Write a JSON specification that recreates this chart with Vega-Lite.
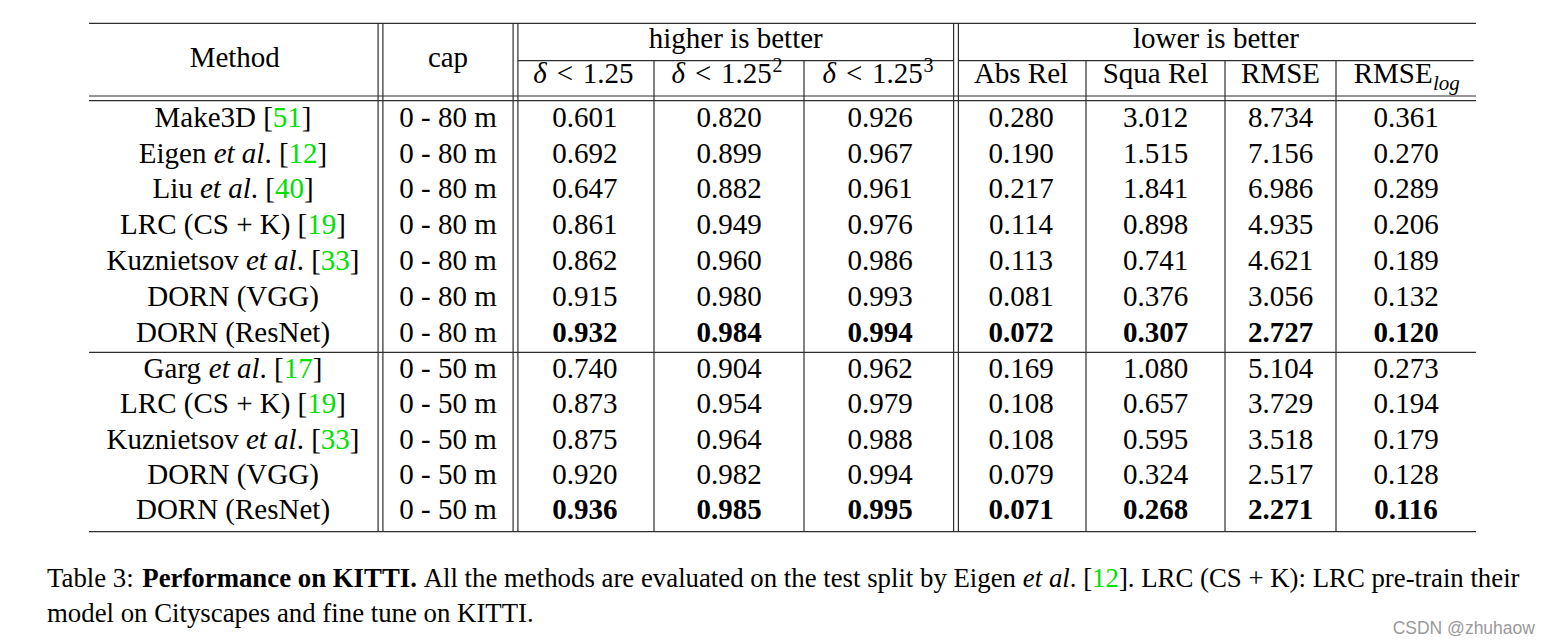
{
  "$schema": "https://vega.github.io/schema/vega-lite/v6.json",
  "width": 1550,
  "height": 644,
  "autosize": {"type": "none"},
  "padding": 0,
  "background": "white",
  "config": {
    "view": {"stroke": null},
    "text": {"font": "Liberation Serif", "fontSize": 29, "baseline": "alphabetic", "color": "#000000"}
  },
  "datasets": {
    "results": [
      {"slot": 6, "method": "Make3D", "cap": "0 - 80 m", "d1": 0.601, "d2": 0.820, "d3": 0.926, "absrel": 0.280, "squarel": 3.012, "rmse": 8.734, "rmselog": 0.361, "best": false},
      {"slot": 7, "method": "Eigen et al.", "cap": "0 - 80 m", "d1": 0.692, "d2": 0.899, "d3": 0.967, "absrel": 0.190, "squarel": 1.515, "rmse": 7.156, "rmselog": 0.270, "best": false},
      {"slot": 8, "method": "Liu et al.", "cap": "0 - 80 m", "d1": 0.647, "d2": 0.882, "d3": 0.961, "absrel": 0.217, "squarel": 1.841, "rmse": 6.986, "rmselog": 0.289, "best": false},
      {"slot": 9, "method": "LRC (CS + K)", "cap": "0 - 80 m", "d1": 0.861, "d2": 0.949, "d3": 0.976, "absrel": 0.114, "squarel": 0.898, "rmse": 4.935, "rmselog": 0.206, "best": false},
      {"slot": 10, "method": "Kuznietsov et al.", "cap": "0 - 80 m", "d1": 0.862, "d2": 0.960, "d3": 0.986, "absrel": 0.113, "squarel": 0.741, "rmse": 4.621, "rmselog": 0.189, "best": false},
      {"slot": 11, "method": "DORN (VGG)", "cap": "0 - 80 m", "d1": 0.915, "d2": 0.980, "d3": 0.993, "absrel": 0.081, "squarel": 0.376, "rmse": 3.056, "rmselog": 0.132, "best": false},
      {"slot": 12, "method": "DORN (ResNet)", "cap": "0 - 80 m", "d1": 0.932, "d2": 0.984, "d3": 0.994, "absrel": 0.072, "squarel": 0.307, "rmse": 2.727, "rmselog": 0.120, "best": true},
      {"slot": 14, "method": "Garg et al.", "cap": "0 - 50 m", "d1": 0.740, "d2": 0.904, "d3": 0.962, "absrel": 0.169, "squarel": 1.080, "rmse": 5.104, "rmselog": 0.273, "best": false},
      {"slot": 15, "method": "LRC (CS + K)", "cap": "0 - 50 m", "d1": 0.873, "d2": 0.954, "d3": 0.979, "absrel": 0.108, "squarel": 0.657, "rmse": 3.729, "rmselog": 0.194, "best": false},
      {"slot": 16, "method": "Kuznietsov et al.", "cap": "0 - 50 m", "d1": 0.875, "d2": 0.964, "d3": 0.988, "absrel": 0.108, "squarel": 0.595, "rmse": 3.518, "rmselog": 0.179, "best": false},
      {"slot": 17, "method": "DORN (VGG)", "cap": "0 - 50 m", "d1": 0.920, "d2": 0.982, "d3": 0.994, "absrel": 0.079, "squarel": 0.324, "rmse": 2.517, "rmselog": 0.128, "best": false},
      {"slot": 18, "method": "DORN (ResNet)", "cap": "0 - 50 m", "d1": 0.936, "d2": 0.985, "d3": 0.995, "absrel": 0.071, "squarel": 0.268, "rmse": 2.271, "rmselog": 0.116, "best": true}
    ],
    "columns": [
      {"metric": "d1", "col": 2.5},
      {"metric": "d2", "col": 3.5},
      {"metric": "d3", "col": 4.5},
      {"metric": "absrel", "col": 5.5},
      {"metric": "squarel", "col": 6.5},
      {"metric": "rmse", "col": 7.5},
      {"metric": "rmselog", "col": 8.5}
    ],
    "hrules": [
      {"slot": 0, "c0": 0, "c1": 9, "kind": "single"},
      {"slot": 2, "c0": 2, "c1": 5, "kind": "sub"},
      {"slot": 2, "c0": 5, "c1": 9, "kind": "sub"},
      {"slot": 5, "c0": 0, "c1": 9, "kind": "double"},
      {"slot": 13, "c0": 0, "c1": 9, "kind": "single"},
      {"slot": 19, "c0": 0, "c1": 9, "kind": "single"}
    ],
    "vrules": [
      {"c": 1, "slot": 0, "slot2": 19, "double": true},
      {"c": 2, "slot": 0, "slot2": 19, "double": true},
      {"c": 3, "slot": 2, "slot2": 19, "double": false},
      {"c": 4, "slot": 2, "slot2": 19, "double": false},
      {"c": 5, "slot": 0, "slot2": 19, "double": true},
      {"c": 6, "slot": 2, "slot2": 19, "double": false},
      {"c": 7, "slot": 2, "slot2": 19, "double": false},
      {"c": 8, "slot": 2, "slot2": 19, "double": false}
    ],
    "headers": [
      {"slot": 3, "col": 0.5, "text": "Method", "kind": "plain"},
      {"slot": 3, "col": 1.5, "text": "cap", "kind": "plain"},
      {"slot": 1, "col": 3.545, "text": "higher is better", "kind": "plain"},
      {"slot": 1, "col": 6.935, "text": "lower is better", "kind": "plain"},
      {"slot": 4, "col": 5.5, "text": "Abs Rel", "kind": "plain"},
      {"slot": 4, "col": 6.5, "text": "Squa Rel", "kind": "plain"},
      {"slot": 4, "col": 7.5, "text": "RMSE", "kind": "plain"},
      {"slot": 4, "col": 2.5, "text": "δ", "kind": "delta"},
      {"slot": 4, "col": 3.5, "text": "δ", "kind": "delta"},
      {"slot": 4, "col": 4.5, "text": "δ", "kind": "delta"},
      {"slot": 4, "col": 2.5, "text": "<\u20041.25", "kind": "deltarest"},
      {"slot": 4, "col": 3.5, "text": "<\u20041.25", "kind": "deltarest"},
      {"slot": 4, "col": 4.5, "text": "<\u20041.25", "kind": "deltarest"},
      {"slot": 4, "col": 3.5, "text": "2", "kind": "sup"},
      {"slot": 4, "col": 4.5, "text": "3", "kind": "sup"},
      {"slot": 4, "col": 8.5, "text": "RMSE", "kind": "rmsebase"},
      {"slot": 4, "col": 8.5, "text": "log", "kind": "sub"}
    ],
    "methodRuns": [
      {"slot": 6, "em": -2.7075, "text": "Make3D [", "kind": "normal"},
      {"slot": 6, "em": 1.3745, "text": "51", "kind": "cite"},
      {"slot": 6, "em": 2.3745, "text": "]", "kind": "normal"},
      {"slot": 7, "em": -3.2495, "text": "Eigen", "kind": "normal"},
      {"slot": 7, "em": -0.6665, "text": "et al", "kind": "italic"},
      {"slot": 7, "em": 1.0835, "text": ". [", "kind": "normal"},
      {"slot": 7, "em": 1.9165, "text": "12", "kind": "cite"},
      {"slot": 7, "em": 2.9165, "text": "]", "kind": "normal"},
      {"slot": 8, "em": -2.7775, "text": "Liu", "kind": "normal"},
      {"slot": 8, "em": -1.1385, "text": "et al", "kind": "italic"},
      {"slot": 8, "em": 0.6115, "text": ". [", "kind": "normal"},
      {"slot": 8, "em": 1.4445, "text": "40", "kind": "cite"},
      {"slot": 8, "em": 2.4445, "text": "]", "kind": "normal"},
      {"slot": 9, "em": -3.893, "text": "LRC (CS + K) [", "kind": "normal"},
      {"slot": 9, "em": 2.56, "text": "19", "kind": "cite"},
      {"slot": 9, "em": 3.56, "text": "]", "kind": "normal"},
      {"slot": 10, "em": -4.3605, "text": "Kuznietsov", "kind": "normal"},
      {"slot": 10, "em": 0.4445, "text": "et al", "kind": "italic"},
      {"slot": 10, "em": 2.1945, "text": ". [", "kind": "normal"},
      {"slot": 10, "em": 3.0275, "text": "33", "kind": "cite"},
      {"slot": 10, "em": 4.0275, "text": "]", "kind": "normal"},
      {"slot": 11, "em": -2.9575, "text": "DORN (VGG)", "kind": "normal"},
      {"slot": 12, "em": -3.3465, "text": "DORN (ResNet)", "kind": "normal"},
      {"slot": 14, "em": -3.0825, "text": "Garg", "kind": "normal"},
      {"slot": 14, "em": -0.8335, "text": "et al", "kind": "italic"},
      {"slot": 14, "em": 0.9165, "text": ". [", "kind": "normal"},
      {"slot": 14, "em": 1.7495, "text": "17", "kind": "cite"},
      {"slot": 14, "em": 2.7495, "text": "]", "kind": "normal"},
      {"slot": 15, "em": -3.893, "text": "LRC (CS + K) [", "kind": "normal"},
      {"slot": 15, "em": 2.56, "text": "19", "kind": "cite"},
      {"slot": 15, "em": 3.56, "text": "]", "kind": "normal"},
      {"slot": 16, "em": -4.3605, "text": "Kuznietsov", "kind": "normal"},
      {"slot": 16, "em": 0.4445, "text": "et al", "kind": "italic"},
      {"slot": 16, "em": 2.1945, "text": ". [", "kind": "normal"},
      {"slot": 16, "em": 3.0275, "text": "33", "kind": "cite"},
      {"slot": 16, "em": 4.0275, "text": "]", "kind": "normal"},
      {"slot": 17, "em": -2.9575, "text": "DORN (VGG)", "kind": "normal"},
      {"slot": 18, "em": -3.3465, "text": "DORN (ResNet)", "kind": "normal"}
    ],
    "captionRuns": [
      {"slot": 20, "em": 0, "text": "Table 3:", "kind": "normal"},
      {"slot": 20, "em": 3.555, "text": "Performance on KITTI.", "kind": "bold"},
      {"slot": 20, "em": 14.054, "text": "All the methods are evaluated on the test split by Eigen", "kind": "normal"},
      {"slot": 20, "em": 36.413, "text": "et al", "kind": "italic"},
      {"slot": 20, "em": 38.163, "text": ". [", "kind": "normal"},
      {"slot": 20, "em": 38.996, "text": "12", "kind": "cite"},
      {"slot": 20, "em": 39.996, "text": "]. LRC (CS + K): LRC pre-train their", "kind": "normal"},
      {"slot": 21, "em": 0, "text": "model on Cityscapes and fine tune on KITTI.", "kind": "normal"},
      {"slot": 22, "em": 55.52, "text": "CSDN @zhuhaow", "kind": "watermark"}
    ]
  },
  "encoding": {
    "y": {
      "field": "slot",
      "type": "quantitative",
      "scale": {
        "domain": [0, 1, 2, 3, 4, 5, 6, 12, 13, 14, 18, 19, 20, 21, 22],
        "range": [23.3, 48.3, 60.7, 67, 83.3, 98.35, 126.8, 341.6, 352.3, 378.2, 519.2, 531.7, 587.3, 621.7, 634],
        "nice": false,
        "zero": false
      },
      "axis": null
    }
  },
  "resolve": {"scale": {"x": "independent"}},
  "layer": [
    {
      "data": {"name": "hrules"},
      "transform": [{"filter": "datum.kind === 'single'"}],
      "mark": {"type": "rule", "color": "#2e2e2e", "strokeWidth": 1.2},
      "encoding": {
        "x": {"field": "c0", "type": "quantitative", "scale": {"domain": [0, 1, 2, 3, 4, 5, 6, 7, 8, 9], "range": [89, 380.5, 515.5, 654, 804, 956, 1086, 1225, 1336, 1476], "nice": false, "zero": false}, "axis": null},
        "x2": {"field": "c1"}
      }
    },
    {
      "data": {"name": "hrules"},
      "transform": [{"filter": "datum.kind === 'sub'"}],
      "mark": {"type": "rule", "color": "#2e2e2e", "strokeWidth": 1.2, "xOffset": 2.4, "x2Offset": -2.4},
      "encoding": {
        "x": {"field": "c0", "type": "quantitative", "scale": {"domain": [0, 1, 2, 3, 4, 5, 6, 7, 8, 9], "range": [89, 380.5, 515.5, 654, 804, 956, 1086, 1225, 1336, 1476], "nice": false, "zero": false}, "axis": null},
        "x2": {"field": "c1"}
      }
    },
    {
      "data": {"name": "hrules"},
      "transform": [{"filter": "datum.kind === 'double'"}],
      "mark": {"type": "rule", "color": "#2e2e2e", "strokeWidth": 1.2, "yOffset": -2.35},
      "encoding": {
        "x": {"field": "c0", "type": "quantitative", "scale": {"domain": [0, 1, 2, 3, 4, 5, 6, 7, 8, 9], "range": [89, 380.5, 515.5, 654, 804, 956, 1086, 1225, 1336, 1476], "nice": false, "zero": false}, "axis": null},
        "x2": {"field": "c1"}
      }
    },
    {
      "data": {"name": "hrules"},
      "transform": [{"filter": "datum.kind === 'double'"}],
      "mark": {"type": "rule", "color": "#2e2e2e", "strokeWidth": 1.2, "yOffset": 2.35},
      "encoding": {
        "x": {"field": "c0", "type": "quantitative", "scale": {"domain": [0, 1, 2, 3, 4, 5, 6, 7, 8, 9], "range": [89, 380.5, 515.5, 654, 804, 956, 1086, 1225, 1336, 1476], "nice": false, "zero": false}, "axis": null},
        "x2": {"field": "c1"}
      }
    },
    {
      "data": {"name": "vrules"},
      "transform": [{"filter": "!datum.double"}],
      "mark": {"type": "rule", "color": "#2e2e2e", "strokeWidth": 1.2},
      "encoding": {
        "x": {"field": "c", "type": "quantitative", "scale": {"domain": [0, 1, 2, 3, 4, 5, 6, 7, 8, 9], "range": [89, 380.5, 515.5, 654, 804, 956, 1086, 1225, 1336, 1476], "nice": false, "zero": false}, "axis": null},
        "y2": {"field": "slot2"}
      }
    },
    {
      "data": {"name": "vrules"},
      "transform": [{"filter": "datum.double"}],
      "mark": {"type": "rule", "color": "#2e2e2e", "strokeWidth": 1.2, "xOffset": -2.4},
      "encoding": {
        "x": {"field": "c", "type": "quantitative", "scale": {"domain": [0, 1, 2, 3, 4, 5, 6, 7, 8, 9], "range": [89, 380.5, 515.5, 654, 804, 956, 1086, 1225, 1336, 1476], "nice": false, "zero": false}, "axis": null},
        "y2": {"field": "slot2"}
      }
    },
    {
      "data": {"name": "vrules"},
      "transform": [{"filter": "datum.double"}],
      "mark": {"type": "rule", "color": "#2e2e2e", "strokeWidth": 1.2, "xOffset": 2.4},
      "encoding": {
        "x": {"field": "c", "type": "quantitative", "scale": {"domain": [0, 1, 2, 3, 4, 5, 6, 7, 8, 9], "range": [89, 380.5, 515.5, 654, 804, 956, 1086, 1225, 1336, 1476], "nice": false, "zero": false}, "axis": null},
        "y2": {"field": "slot2"}
      }
    },
    {
      "data": {"name": "headers"},
      "transform": [{"filter": "datum.kind === 'plain'"}],
      "mark": {"type": "text", "align": "center"},
      "encoding": {
        "x": {"field": "col", "type": "quantitative", "scale": {"domain": [0, 1, 2, 3, 4, 5, 6, 7, 8, 9], "range": [89, 380.5, 515.5, 654, 804, 956, 1086, 1225, 1336, 1476], "nice": false, "zero": false}, "axis": null},
        "text": {"field": "text"}
      }
    },
    {
      "data": {"name": "headers"},
      "transform": [{"filter": "datum.kind === 'delta' && datum.col === 2.5"}],
      "mark": {"type": "text", "align": "right", "fontStyle": "italic", "dx": -38},
      "encoding": {
        "x": {"field": "col", "type": "quantitative", "scale": {"domain": [0, 1, 2, 3, 4, 5, 6, 7, 8, 9], "range": [89, 380.5, 515.5, 654, 804, 956, 1086, 1225, 1336, 1476], "nice": false, "zero": false}, "axis": null},
        "text": {"field": "text"}
      }
    },
    {
      "data": {"name": "headers"},
      "transform": [{"filter": "datum.kind === 'deltarest' && datum.col === 2.5"}],
      "mark": {"type": "text", "align": "left", "dx": -28},
      "encoding": {
        "x": {"field": "col", "type": "quantitative", "scale": {"domain": [0, 1, 2, 3, 4, 5, 6, 7, 8, 9], "range": [89, 380.5, 515.5, 654, 804, 956, 1086, 1225, 1336, 1476], "nice": false, "zero": false}, "axis": null},
        "text": {"field": "text"}
      }
    },
    {
      "data": {"name": "headers"},
      "transform": [{"filter": "datum.kind === 'delta' && datum.col !== 2.5"}],
      "mark": {"type": "text", "align": "right", "fontStyle": "italic", "dx": -44},
      "encoding": {
        "x": {"field": "col", "type": "quantitative", "scale": {"domain": [0, 1, 2, 3, 4, 5, 6, 7, 8, 9], "range": [89, 380.5, 515.5, 654, 804, 956, 1086, 1225, 1336, 1476], "nice": false, "zero": false}, "axis": null},
        "text": {"field": "text"}
      }
    },
    {
      "data": {"name": "headers"},
      "transform": [{"filter": "datum.kind === 'deltarest' && datum.col !== 2.5"}],
      "mark": {"type": "text", "align": "left", "dx": -34},
      "encoding": {
        "x": {"field": "col", "type": "quantitative", "scale": {"domain": [0, 1, 2, 3, 4, 5, 6, 7, 8, 9], "range": [89, 380.5, 515.5, 654, 804, 956, 1086, 1225, 1336, 1476], "nice": false, "zero": false}, "axis": null},
        "text": {"field": "text"}
      }
    },
    {
      "data": {"name": "headers"},
      "transform": [{"filter": "datum.kind === 'sup'"}],
      "mark": {"type": "text", "align": "left", "fontSize": 20, "dx": 43.5, "dy": -11},
      "encoding": {
        "x": {"field": "col", "type": "quantitative", "scale": {"domain": [0, 1, 2, 3, 4, 5, 6, 7, 8, 9], "range": [89, 380.5, 515.5, 654, 804, 956, 1086, 1225, 1336, 1476], "nice": false, "zero": false}, "axis": null},
        "text": {"field": "text"}
      }
    },
    {
      "data": {"name": "headers"},
      "transform": [{"filter": "datum.kind === 'rmsebase'"}],
      "mark": {"type": "text", "align": "right", "dx": 26.7},
      "encoding": {
        "x": {"field": "col", "type": "quantitative", "scale": {"domain": [0, 1, 2, 3, 4, 5, 6, 7, 8, 9], "range": [89, 380.5, 515.5, 654, 804, 956, 1086, 1225, 1336, 1476], "nice": false, "zero": false}, "axis": null},
        "text": {"field": "text"}
      }
    },
    {
      "data": {"name": "headers"},
      "transform": [{"filter": "datum.kind === 'sub'"}],
      "mark": {"type": "text", "align": "left", "fontStyle": "italic", "fontSize": 21, "dx": 27, "dy": 7},
      "encoding": {
        "x": {"field": "col", "type": "quantitative", "scale": {"domain": [0, 1, 2, 3, 4, 5, 6, 7, 8, 9], "range": [89, 380.5, 515.5, 654, 804, 956, 1086, 1225, 1336, 1476], "nice": false, "zero": false}, "axis": null},
        "text": {"field": "text"}
      }
    },
    {
      "data": {"name": "results"},
      "mark": {"type": "text", "align": "center"},
      "encoding": {
        "x": {"datum": 1.5, "type": "quantitative", "scale": {"domain": [0, 1, 2, 3, 4, 5, 6, 7, 8, 9], "range": [89, 380.5, 515.5, 654, 804, 956, 1086, 1225, 1336, 1476], "nice": false, "zero": false}, "axis": null},
        "text": {"field": "cap"}
      }
    },
    {
      "data": {"name": "results"},
      "transform": [
        {"fold": ["d1", "d2", "d3", "absrel", "squarel", "rmse", "rmselog"], "as": ["metric", "value"]},
        {"lookup": "metric", "from": {"data": {"name": "columns"}, "key": "metric", "fields": ["col"]}},
        {"filter": "!datum.best"}
      ],
      "mark": {"type": "text", "align": "center"},
      "encoding": {
        "x": {"field": "col", "type": "quantitative", "scale": {"domain": [0, 1, 2, 3, 4, 5, 6, 7, 8, 9], "range": [89, 380.5, 515.5, 654, 804, 956, 1086, 1225, 1336, 1476], "nice": false, "zero": false}, "axis": null},
        "text": {"field": "value", "type": "quantitative", "format": ".3f"}
      }
    },
    {
      "data": {"name": "results"},
      "transform": [
        {"fold": ["d1", "d2", "d3", "absrel", "squarel", "rmse", "rmselog"], "as": ["metric", "value"]},
        {"lookup": "metric", "from": {"data": {"name": "columns"}, "key": "metric", "fields": ["col"]}},
        {"filter": "datum.best"}
      ],
      "mark": {"type": "text", "align": "center", "fontWeight": "bold"},
      "encoding": {
        "x": {"field": "col", "type": "quantitative", "scale": {"domain": [0, 1, 2, 3, 4, 5, 6, 7, 8, 9], "range": [89, 380.5, 515.5, 654, 804, 956, 1086, 1225, 1336, 1476], "nice": false, "zero": false}, "axis": null},
        "text": {"field": "value", "type": "quantitative", "format": ".3f"}
      }
    },
    {
      "data": {"name": "methodRuns"},
      "transform": [{"filter": "datum.kind === 'normal'"}],
      "mark": {"type": "text", "align": "left"},
      "encoding": {
        "x": {"field": "em", "type": "quantitative", "scale": {"domain": [0, 1], "range": [233, 262], "nice": false, "zero": false}, "axis": null},
        "text": {"field": "text"}
      }
    },
    {
      "data": {"name": "methodRuns"},
      "transform": [{"filter": "datum.kind === 'italic'"}],
      "mark": {"type": "text", "align": "left", "fontStyle": "italic"},
      "encoding": {
        "x": {"field": "em", "type": "quantitative", "scale": {"domain": [0, 1], "range": [233, 262], "nice": false, "zero": false}, "axis": null},
        "text": {"field": "text"}
      }
    },
    {
      "data": {"name": "methodRuns"},
      "transform": [{"filter": "datum.kind === 'cite'"}],
      "mark": {"type": "text", "align": "left", "color": "#00e000"},
      "encoding": {
        "x": {"field": "em", "type": "quantitative", "scale": {"domain": [0, 1], "range": [233, 262], "nice": false, "zero": false}, "axis": null},
        "text": {"field": "text"}
      }
    },
    {
      "data": {"name": "captionRuns"},
      "transform": [{"filter": "datum.kind === 'normal'"}],
      "mark": {"type": "text", "align": "left", "fontSize": 26.8},
      "encoding": {
        "x": {"field": "em", "type": "quantitative", "scale": {"domain": [0, 1], "range": [47, 73.8], "nice": false, "zero": false}, "axis": null},
        "text": {"field": "text"}
      }
    },
    {
      "data": {"name": "captionRuns"},
      "transform": [{"filter": "datum.kind === 'bold'"}],
      "mark": {"type": "text", "align": "left", "fontSize": 26.8, "fontWeight": "bold"},
      "encoding": {
        "x": {"field": "em", "type": "quantitative", "scale": {"domain": [0, 1], "range": [47, 73.8], "nice": false, "zero": false}, "axis": null},
        "text": {"field": "text"}
      }
    },
    {
      "data": {"name": "captionRuns"},
      "transform": [{"filter": "datum.kind === 'italic'"}],
      "mark": {"type": "text", "align": "left", "fontSize": 26.8, "fontStyle": "italic"},
      "encoding": {
        "x": {"field": "em", "type": "quantitative", "scale": {"domain": [0, 1], "range": [47, 73.8], "nice": false, "zero": false}, "axis": null},
        "text": {"field": "text"}
      }
    },
    {
      "data": {"name": "captionRuns"},
      "transform": [{"filter": "datum.kind === 'cite'"}],
      "mark": {"type": "text", "align": "left", "fontSize": 26.8, "color": "#00e000"},
      "encoding": {
        "x": {"field": "em", "type": "quantitative", "scale": {"domain": [0, 1], "range": [47, 73.8], "nice": false, "zero": false}, "axis": null},
        "text": {"field": "text"}
      }
    },
    {
      "data": {"name": "captionRuns"},
      "transform": [{"filter": "datum.kind === 'watermark'"}],
      "mark": {"type": "text", "align": "right", "fontSize": 17.5, "font": "Liberation Sans", "color": "#9a9a9a"},
      "encoding": {
        "x": {"field": "em", "type": "quantitative", "scale": {"domain": [0, 1], "range": [47, 73.8], "nice": false, "zero": false}, "axis": null},
        "text": {"field": "text"}
      }
    }
  ]
}
